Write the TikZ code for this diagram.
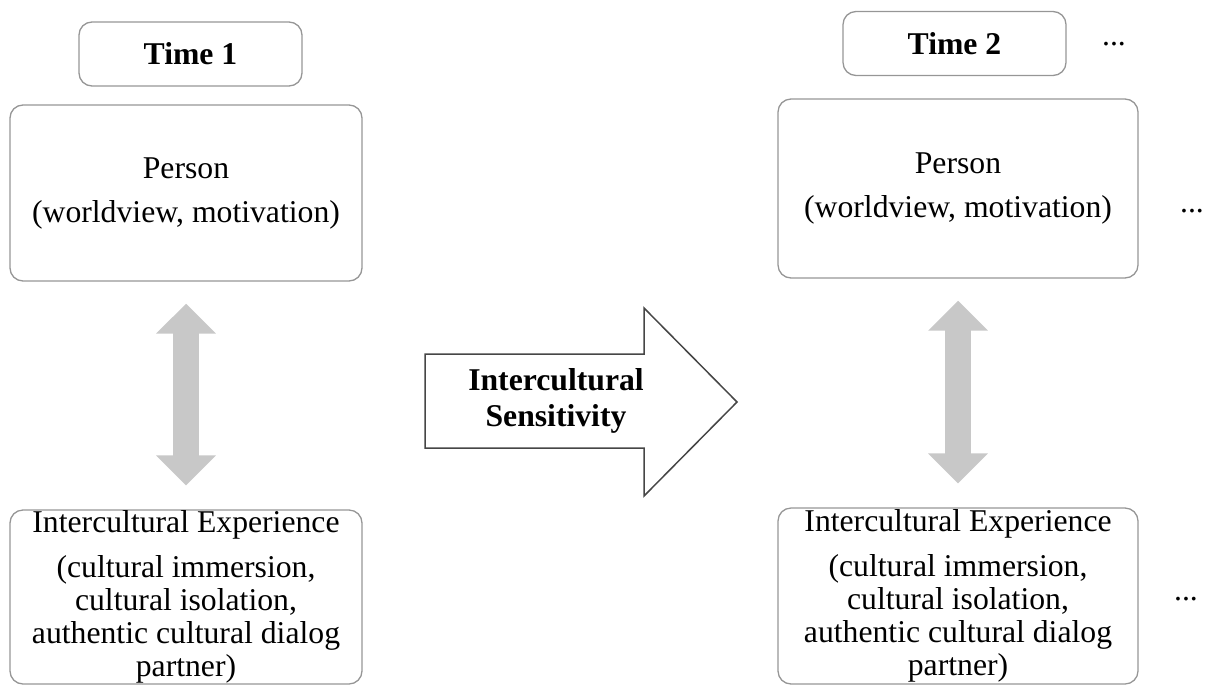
\documentclass[tikz,border=0pt]{standalone}
\usepackage{fontspec}
\setmainfont{Liberation Serif}
\usepackage{xcolor}
\usepackage{tikz}
\usetikzlibrary{positioning,calc,arrows.meta}

\definecolor{boxline}{RGB}{150,150,150}
\definecolor{arrowfill}{RGB}{200,200,200}
\definecolor{bigline}{RGB}{70,70,70}

\begin{document}
\begin{tikzpicture}[x=0.5pt,y=-0.5pt,
    box/.style={draw=boxline, line width=0.65pt, rounded corners=6.5pt, align=center,
        inner sep=0pt, font=\fontsize{15.85}{22}\selectfont},
    timebox/.style={box, minimum width=111.5pt, minimum height=32pt, font=\fontsize{15.85}{19}\selectfont\bfseries},
    twoway/.style={line width=13pt, draw=arrowfill,
        {Triangle[length=15pt,width=29pt]}-{Triangle[length=15pt,width=29pt]},
        shorten <=11pt, shorten >=12pt}]
    \useasboundingbox (0,0) rectangle (1208,686);

    % time 1
    \node[timebox] (t1) at (190.5,54) {Time 1};
    \node[box, minimum width=176pt, minimum height=88pt] (personL) at (186,193)
        {Person\\(worldview, motivation)};
    \node[box, minimum width=176pt, minimum height=87pt, font=\fontsize{15.85}{16.5}\selectfont] (expL) at (186,597)
        {Intercultural Experience\\[6pt](cultural immersion,\\cultural isolation,\\authentic cultural dialog\\partner)};
    \draw[twoway] (personL.south) -- (expL.north);

    % time 2
    \node[timebox] (t2) at (954.5,43.5) {Time 2};
    \node[box, minimum width=180pt, minimum height=89.5pt] (personR) at (958,188.5)
        {Person\\(worldview, motivation)};
    \node[box, minimum width=180pt, minimum height=88pt, font=\fontsize{15.85}{16.5}\selectfont] (expR) at (958,596)
        {Intercultural Experience\\[6pt](cultural immersion,\\cultural isolation,\\authentic cultural dialog\\partner)};
    \draw[twoway] (personR.south) -- (expR.north);

    \node[font=\fontsize{15.85}{19}\selectfont] (more1) at (1114,44) {...};
    \node[font=\fontsize{15.85}{19}\selectfont] (more2) at (1192,211) {...};
    \node[font=\fontsize{15.85}{19}\selectfont] (more3) at (1186,599) {...};

    % big arrow
    \draw[draw=bigline, line width=0.75pt, fill=white]
        (425,354) -- (644,354) -- (644,308) -- (737,402) -- (644,496) -- (644,448) -- (425,448) -- cycle;
    \node[align=center, font=\fontsize{15.85}{18}\selectfont\bfseries] (sens) at (556,401)
        {Intercultural\\Sensitivity};
\end{tikzpicture}
\end{document}
